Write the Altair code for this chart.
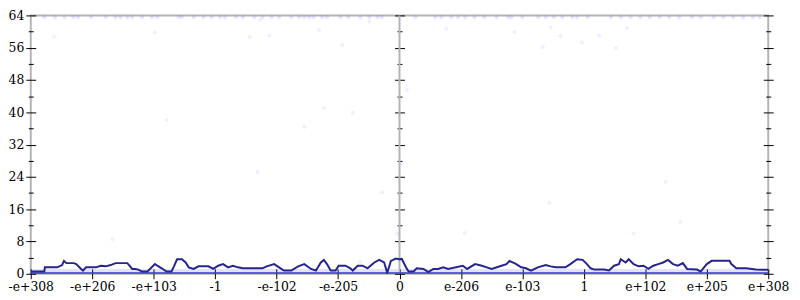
import json
import altair as alt
import pandas as pd

# ---- axis definitions ----
tick_pos = [-6, -5, -4, -3, -2, -1, 0, 1, 2, 3, 4, 5, 6]
tick_labels = ["-e+308", "-e+206", "-e+103", "-1", "-e-102", "-e-205", "0",
               "e-206", "e-103", "1", "e+102", "e+205", "e+308"]
y_major = [0, 8, 16, 24, 32, 40, 48, 56, 64]
y_minor = [4, 12, 20, 28, 36, 44, 52, 60]

# ---- mean error line (x in float-ordinal tick units, y in ulps) ----
line_x = [-6.00, -5.78, -5.77, -5.57, -5.49, -5.46, -5.42, -5.30, -5.26, -5.18,
          -5.15, -5.10, -4.94, -4.86, -4.78, -4.70, -4.62, -4.43, -4.40, -4.35,
          -4.30, -4.25, -4.19, -4.10, -4.06, -3.98, -3.94, -3.87, -3.79, -3.71,
          -3.67, -3.62, -3.54, -3.48, -3.43, -3.35, -3.27, -3.11, -3.03, -2.95,
          -2.87, -2.79, -2.71, -2.63, -2.55, -2.23, -2.16, -2.04, -1.96, -1.88,
          -1.76, -1.65, -1.55, -1.44, -1.36, -1.28, -1.23, -1.18, -1.12, -1.04,
          -0.99, -0.88, -0.80, -0.76, -0.68, -0.60, -0.52, -0.41, -0.33, -0.25,
          -0.20, -0.14, -0.06, -0.01,
          0.04, 0.12, 0.15, 0.23, 0.28, 0.39, 0.47, 0.55, 0.63, 0.71,
          0.79, 1.03, 1.10, 1.23, 1.34, 1.42, 1.50, 1.66, 1.74, 1.79,
          1.90, 1.98, 2.06, 2.14, 2.25, 2.38, 2.46, 2.54, 2.70, 2.78,
          2.89, 2.98, 3.05, 3.11, 3.17, 3.33, 3.41, 3.49, 3.57, 3.60,
          3.68, 3.73, 3.81, 3.89, 3.97, 4.05, 4.13, 4.21, 4.29, 4.37,
          4.45, 4.53, 4.61, 4.68, 4.84, 4.90, 5.00, 5.08, 5.37, 5.40,
          5.48, 5.64, 5.80, 6.00]
line_y = [0.56, 0.56, 1.60, 1.60, 2.16, 3.20, 2.64, 2.64, 2.40, 1.20,
          0.80, 1.60, 1.60, 2.00, 1.84, 2.16, 2.64, 2.64, 2.16, 1.20,
          1.20, 1.04, 0.56, 0.56, 1.20, 2.40, 2.00, 1.36, 0.56, 0.56,
          1.84, 3.60, 3.60, 2.80, 1.60, 1.20, 1.84, 1.84, 1.20, 2.00,
          2.40, 1.60, 2.00, 1.60, 1.36, 1.36, 1.84, 2.40, 1.60, 0.80,
          0.80, 1.84, 2.40, 1.20, 0.80, 2.80, 3.44, 2.40, 0.80, 0.80,
          2.00, 2.00, 1.36, 0.80, 2.00, 2.00, 1.36, 2.80, 3.44, 2.80,
          0.24, 3.20, 3.76, 3.60,
          3.60, 1.20, 0.56, 0.56, 1.36, 1.20, 0.40, 1.20, 1.20, 1.60,
          1.20, 2.00, 1.20, 2.40, 2.00, 1.60, 1.20, 2.00, 2.40, 3.20,
          2.40, 1.60, 1.36, 0.80, 1.60, 2.16, 1.84, 1.60, 1.60, 2.40,
          3.60, 3.44, 2.40, 1.36, 1.04, 1.04, 0.80, 2.00, 2.40, 3.60,
          2.80, 3.60, 2.40, 1.84, 2.00, 1.20, 2.00, 2.40, 2.80, 3.44,
          2.40, 2.00, 2.64, 1.20, 1.04, 0.56, 2.40, 3.20, 3.20, 2.40,
          1.36, 1.36, 1.04, 1.00]

# ---- scattered individual error samples ----
scatter_x = [-5.62, -3.98, -3.79, -2.44, -2.27, -2.12, -1.55, -1.31, -1.23, -0.93,
             -0.76, -0.49, 0.76, 1.87, 2.46, 2.62, 2.97, 2.33, 3.25, 3.52,
             3.70, 0.12, -2.31, -4.67, -0.28, -0.04, -0.64, 0.04, 2.44, 4.33,
             4.57, 1.06, 3.81]
scatter_y = [58.7, 59.8, 38.1, 58.6, 63.0, 59.0, 36.4, 60.3, 41.0, 56.6,
             39.9, 62.5, 60.7, 59.9, 61.1, 58.9, 57.3, 56.1, 59.0, 55.9,
             60.9, 45.5, 25.2, 8.6, 20.2, 10.0, 2.9, 27.2, 17.6, 22.8,
             12.8, 10.1, 10.0]

# samples at the top of the range
top_x = [-5.78, -5.61, -5.45, -5.31, -5.23, -5.02, -4.78, -4.62, -4.54, -4.43,
         -4.35, -4.19, -4.03, -3.94, -3.59, -3.54, -3.35, -3.19, -3.06, -2.92,
         -2.84, -2.66, -2.55, -2.36, -2.23, -2.08, -1.96, -1.76, -1.63, -1.55,
         -1.47, -1.40, -1.26, -1.18, -0.96, -0.83, -0.64, -0.49, -0.36, -0.29,
         0.26, 0.58, 0.68, 0.84, 0.95, 1.07, 1.22, 1.38, 1.58, 1.77,
         1.82, 2.00, 2.26, 2.38, 2.51, 2.65, 2.81, 2.89, 3.06, 3.44,
         3.60, 3.76, 3.92, 4.07, 4.23, 4.39, 4.55, 4.76, 4.90, 5.11,
         5.27, 5.43, 5.59, 5.75, 5.86]
top_level = 63.6

# dense band of samples at (near) zero error
band_x = [-6, 6]
band_zero = [0, 0]
band_top = [1.2, 1.2]

mid_x = [0]
mid_y = [0]
mid_y2 = [64]

# ---- tables ----
line_df = pd.DataFrame({"x": line_x, "y": line_y})
scatter_df = pd.DataFrame({"x": scatter_x, "y": scatter_y})
top_df = pd.DataFrame({"x": top_x, "y": [top_level for _ in top_x]})
band_df = pd.DataFrame({"x": band_x, "y": band_zero, "y2": band_top})
mid_df = pd.DataFrame({"x": mid_x, "y": mid_y, "y2": mid_y2})

W, H = 745, 261
FONT = "DejaVu Serif"
FS = 12.5

xscale = alt.Scale(domain=[-6, 6], nice=False, zero=False)
yscale = alt.Scale(domain=[0, 64], nice=False, zero=False)

label_expr = f"{json.dumps(tick_labels)}[round(datum.value) + 6]"
xaxis = alt.Axis(values=tick_pos, labelExpr=label_expr, orient="bottom",
                 offset=-5, tickSize=10, domain=False, grid=False, title=None,
                 tickColor="black", tickWidth=1, labelFont=FONT, labelFontSize=FS,
                 labelColor="black", labelPadding=2, labelOverlap=False,
                 labelFlush=False)


def yaxis(orient, offset, size, values, labels):
    return alt.Axis(orient=orient, offset=offset, tickSize=size, values=values,
                    labels=labels, domain=False, grid=False, title=None,
                    tickColor="black", tickWidth=1, labelFont=FONT,
                    labelFontSize=FS, labelColor="black", labelPadding=2)


band = alt.Chart(band_df).mark_area(color="#4a4ae6", opacity=0.16, clip=True).encode(
    x=alt.X("x:Q", scale=xscale, axis=xaxis),
    y=alt.Y("y:Q", scale=yscale, axis=yaxis("left", -5, 10, y_major, True)),
    y2="y2:Q",
)

mid = alt.Chart(mid_df).mark_rule(color="#b4b4b4", strokeWidth=2).encode(
    x=alt.X("x:Q", scale=xscale, axis=None),
    y=alt.Y("y:Q", scale=yscale, axis=yaxis("left", -2.5, 5, y_minor, False)),
    y2="y2:Q",
)

zero = alt.Chart(band_df).mark_line(color="#3a3ae0", strokeWidth=3, clip=True).encode(
    x=alt.X("x:Q", scale=xscale, axis=None),
    y=alt.Y("y:Q", scale=yscale, axis=yaxis("right", -5, 10, y_major, False)),
)

scatter = alt.Chart(scatter_df).mark_circle(color="#3030ff", opacity=0.08, size=16, clip=True).encode(
    x=alt.X("x:Q", scale=xscale, axis=None),
    y=alt.Y("y:Q", scale=yscale, axis=yaxis("right", -2.5, 5, y_minor, False)),
)

top = alt.Chart(top_df).mark_circle(color="#3030ff", opacity=0.12, size=18, clip=True).encode(
    x=alt.X("x:Q", scale=xscale, axis=None),
    y=alt.Y("y:Q", scale=yscale, axis=yaxis("left", -(W / 2 + 5), 10, y_major, False)),
)

line = alt.Chart(line_df).mark_line(color="#25258c", strokeWidth=2, clip=True).encode(
    x=alt.X("x:Q", scale=xscale, axis=None),
    y=alt.Y("y:Q", scale=yscale, axis=yaxis("left", -(W / 2 + 2.5), 5, y_minor, False)),
)

chart = (
    alt.layer(band, mid, zero, scatter, top, line)
    .resolve_axis(x="independent", y="independent")
    .properties(
        width=W,
        height=H,
        padding={"left": 23, "top": 6, "right": 24, "bottom": 25},
        autosize=alt.AutoSizeParams(type="none"),
        background="white",
    )
    .configure_view(stroke="#b4b4b4", strokeWidth=2)
)

chart.save("out.html", embed_options={"renderer": "svg", "actions": False})
